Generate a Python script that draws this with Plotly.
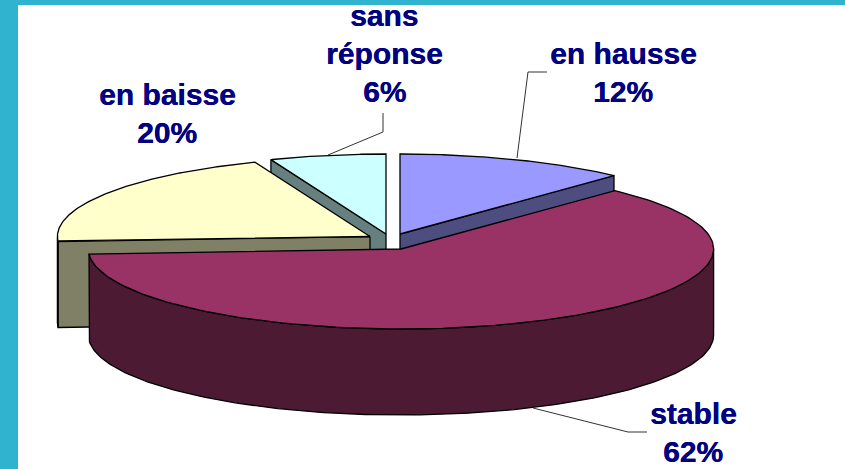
import numpy as np
import plotly.graph_objects as go

# --- data -------------------------------------------------------------
categories = ["en hausse", "stable", "en baisse", "sans réponse"]
values = [12, 62, 20, 6]
label_lines = [["en hausse", "12%"], ["stable", "62%"], ["en baisse", "20%"], ["sans", "réponse", "6%"]]

top_colors = ["#9999FF", "#993366", "#FFFFCC", "#CCFFFF"]
side_colors = ["#4D4D80", "#4D1A33", "#808066", "#668080"]

# --- layout of the fake 3D pie ----------------------------------------
RX, RY, DEPTH = 312.6, 80, 86
centers = [(400, 234), (401, 249), (370, 236.5), (386, 234)]
label_pos = [(623, 64), (693, 424), (167, 105), (384, 26)]   # x centre, first baseline
FONT_PX = 30
LINE_PX = 38
TEXT_COLOR = "#000080"
TEAL = "#2FB3CF"

total = sum(values)
edges = np.cumsum([0] + values) / total * 360.0


def arc(cx, cy, a0, a1, dy=0.0):
    t = np.radians(np.linspace(a0, a1, 160))
    return cx + RX * np.sin(t), cy - RY * np.cos(t) + dy


def add_poly(fig, xs, ys, fill, width=1.3):
    fig.add_trace(go.Scatter(
        x=list(xs) + [xs[0]], y=list(ys) + [ys[0]], mode="lines",
        fill="toself", fillcolor=fill,
        line=dict(color="#000000", width=width), hoverinfo="skip",
        showlegend=False))


def cut_face(cx, cy, angle):
    px, py = arc(cx, cy, angle, angle)
    return [cx, px[0], px[0], cx], [cy, py[0], py[0] + DEPTH, cy + DEPTH]


fig = go.Figure()

# which radial cut of each slice faces the viewer
visible_cut = [edges[1], None, edges[2], edges[3]]
draw_order = [0, 3, 2, 1]

for i in draw_order:
    cx, cy = centers[i]
    a0, a1 = edges[i], edges[i + 1]
    if visible_cut[i] is not None:
        xs, ys = cut_face(cx, cy, visible_cut[i])
        add_poly(fig, xs, ys, side_colors[i])
    # outer rim, only the part on the viewer's side
    lo, hi = max(a0, 90.0), min(a1, 270.0)
    if hi > lo:
        tx, ty = arc(cx, cy, lo, hi)
        bx, by = arc(cx, cy, lo, hi, DEPTH)
        add_poly(fig, np.r_[tx, bx[::-1]], np.r_[ty, by[::-1]], side_colors[i])
    # top surface
    tx, ty = arc(cx, cy, a0, a1)
    add_poly(fig, np.r_[cx, tx], np.r_[cy, ty], top_colors[i])

shapes = [
    dict(type="rect", x0=0, x1=18, y0=0, y1=469, fillcolor=TEAL, line_width=0, layer="below"),
    dict(type="rect", x0=0, x1=845, y0=0, y1=5, fillcolor=TEAL, line_width=0, layer="below"),
    dict(type="path", path="M517,158 L528,72 L547,72", line=dict(color="#333333", width=1)),
    dict(type="path", path="M328,155 L383,132 L383,113", line=dict(color="#333333", width=1)),
    dict(type="path", path="M533,408 L628,432 L647,432", line=dict(color="#333333", width=1)),
]

annotations = []
for lines, (x, base) in zip(label_lines, label_pos):
    for k, txt in enumerate(lines):
        annotations.append(dict(
            x=x, y=base + k * LINE_PX, text=f"<b>{txt}</b>", showarrow=False,
            xanchor="center", yanchor="bottom", yshift=-FONT_PX * 0.22,
            font=dict(family="Liberation Sans", size=FONT_PX, color=TEXT_COLOR,
                      shadow="0.4px 0 0 #000080"),
            borderpad=0))

fig.update_layout(
    width=845, height=469, margin=dict(l=0, r=0, t=0, b=0),
    paper_bgcolor="#FFFFFF", plot_bgcolor="#FFFFFF",
    xaxis=dict(range=[0, 845], visible=False, fixedrange=True),
    yaxis=dict(range=[469, 0], visible=False, fixedrange=True),
    shapes=shapes, annotations=annotations, showlegend=False,
)

fig.write_html("out.html", post_script="document.body.style.margin='0';",
               config={"displayModeBar": False})
